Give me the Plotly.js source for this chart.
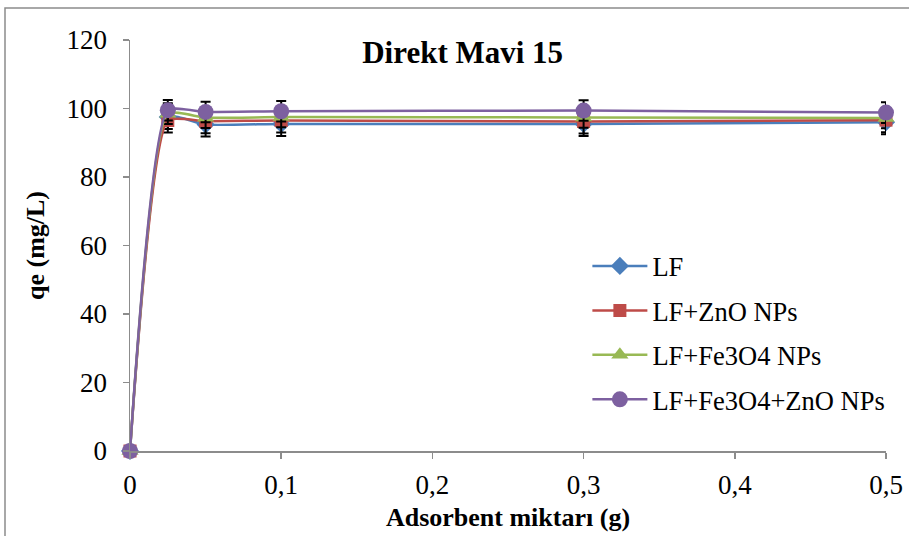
<!DOCTYPE html>
<html>
<head>
<meta charset="utf-8">
<script src="https://cdn.plot.ly/plotly-3.0.1.min.js"></script>
<style>html,body{margin:0;padding:0;background:#fff;}#chart{width:909px;height:536px;}</style>
</head>
<body>
<div id="chart"></div>
<script>
// Data
const xValues = [0, 0.025, 0.05, 0.1, 0.3, 0.5];
const seriesNames = ['LF', 'LF+ZnO NPs', 'LF+Fe3O4 NPs', 'LF+Fe3O4+ZnO NPs'];
const lfValues = [0, 97.5, 95.3, 95.5, 95.5, 96.0];
const znoValues = [0, 96.5, 96.3, 96.5, 96.2, 96.6];
const fe3o4Values = [0, 98.5, 97.3, 97.5, 97.4, 97.2];
const comboValues = [0, 99.5, 99.0, 99.2, 99.4, 98.8];
const lfErrors = [0, 3.5, 3.5, 3.5, 3.5, 3.5];
const znoErrors = [0, 3.5, 3.5, 3.5, 3.5, 3.5];
const fe3o4Errors = [0, 3.0, 3.0, 3.0, 3.0, 3.0];
const comboErrors = [0, 3.0, 3.0, 3.0, 3.0, 3.0];
const xTickVals = [0, 0.1, 0.2, 0.3, 0.4, 0.5];
const yTickVals = [0, 20, 40, 60, 80, 100, 120];

const FONT = 'Times New Roman, Liberation Serif, DejaVu Serif, serif';
const colors = ['#4A7EBB', '#BE4B48', '#98B954', '#7D60A0'];
const symbols = ['diamond', 'square', 'triangle-up', 'circle'];
const sizes = [14, 13, 15, 16];
const ys = [lfValues, znoValues, fe3o4Values, comboValues];
const errs = [lfErrors, znoErrors, fe3o4Errors, comboErrors];

const traces = seriesNames.map((name, i) => ({
  x: xValues,
  y: ys[i],
  name: name,
  type: 'scatter',
  mode: 'lines+markers',
  cliponaxis: false,
  legendgroup: 'g' + i,
  line: {color: colors[i], width: 2.5, shape: 'spline', smoothing: 0.5},
  marker: {color: colors[i], symbol: symbols[i], size: sizes[i], line: {width: 0}},
  error_y: {type: 'data', array: errs[i], visible: true, color: '#000', thickness: 2, width: 5}
}));

const W = 756, H = 411;
const layout = {
  width: 909, height: 536,
  margin: {l: 130, r: 23, t: 40, b: 85},
  paper_bgcolor: '#fff', plot_bgcolor: '#fff',
  separators: ',.',
  font: {family: FONT, color: '#000', size: 26},
  showlegend: true,
  legend: {
    x: 0.605, y: 0.508, xanchor: 'left', yanchor: 'top',
    font: {size: 26.5, family: FONT, color: '#000'},
    bgcolor: 'rgba(0,0,0,0)', traceorder: 'grouped', tracegroupgap: 7, itemwidth: 55
  },
  title: {
    text: '<b>Direkt Mavi 15</b>',
    font: {size: 31, family: FONT, color: '#000'},
    x: 0.509, xref: 'container', xanchor: 'center',
    y: 1 - 52/536, yref: 'container', yanchor: 'middle'
  },
  xaxis: {
    range: [0, 0.5], tickvals: xTickVals, showgrid: false, zeroline: false,
    showline: true, linecolor: '#8c8c8c', linewidth: 1.5,
    ticks: 'outside', ticklen: 6, tickcolor: '#8c8c8c', tickwidth: 1.5,
    ticklabelstandoff: 3,
    tickfont: {size: 27, family: FONT},
    title: {text: '<b>Adsorbent miktarı (g)</b>', font: {size: 26, family: FONT}, standoff: 9}
  },
  yaxis: {
    range: [0, 120], tickvals: yTickVals, showgrid: false, zeroline: false,
    showline: true, linecolor: '#8c8c8c', linewidth: 1.5,
    ticks: 'outside', ticklen: 6, tickcolor: '#8c8c8c', tickwidth: 1.5,
    ticklabelstandoff: 10,
    tickfont: {size: 27, family: FONT},
    title: {text: '<b>qe (mg/L)</b>', font: {size: 26, family: FONT}, standoff: 14}
  },
  shapes: [
    {type: 'rect', xref: 'paper', yref: 'paper',
     x0: (5 - 130) / W, x1: (915 - 130) / W, y0: (451 - 545) / H, y1: (451 - 8) / H,
     line: {color: '#8c8c8c', width: 1.5}, fillcolor: 'rgba(0,0,0,0)', layer: 'below'}
  ]
};

Plotly.newPlot('chart', traces, layout, {displayModeBar: false, staticPlot: true});
</script>
</body>
</html>
